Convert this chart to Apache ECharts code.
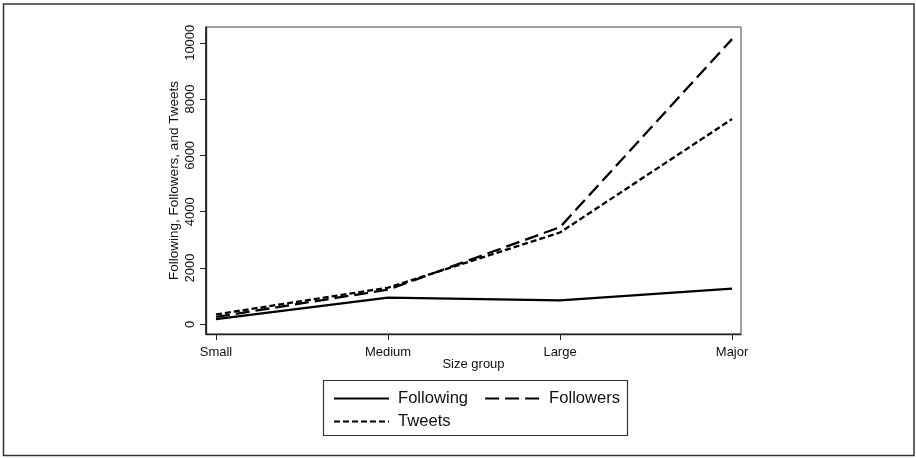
<!DOCTYPE html>
<html>
<head>
<meta charset="utf-8">
<script src="https://cdn.jsdelivr.net/npm/echarts@6/dist/echarts.min.js"></script>
<style>
html,body{margin:0;padding:0;background:#fff;}
#chart{width:916px;height:458px;}
</style>
</head>
<body>
<div id="chart"></div>
<script>
var categories = ['Small', 'Medium', 'Large', 'Major'];
var following = [180, 950, 850, 1270];
var followers = [260, 1230, 3450, 10130];
var tweets = [350, 1300, 3260, 7290];
var yTicks = [0, 2000, 4000, 6000, 8000, 10000];

function pts(arr) { return arr.map(function (v, i) { return [i + 1, v]; }); }

var font = 'Liberation Sans, Arial, sans-serif';
var legendBase = {
  orient: 'horizontal', padding: 0, itemGap: 16, itemWidth: 55, itemHeight: 14,
  itemStyle: { opacity: 0 },
  textStyle: { fontFamily: font, fontSize: 16.6, color: '#111', padding: [0, 0, 0, 4] }
};
var chart = echarts.init(document.getElementById('chart'));
chart.setOption({
  animation: false,
  backgroundColor: '#fff',
  grid: { left: 206, top: 27, right: 175, bottom: 124, show: false },
  xAxis: {
    type: 'value', min: 0.942, max: 4.052,
    name: 'Size group', nameLocation: 'middle', nameGap: 24, nameMoveOverlap: false,
    nameTextStyle: { fontFamily: font, fontSize: 13, color: '#111' },
    axisLine: { show: true, onZero: false, lineStyle: { color: '#222', width: 1.3 } },
    axisTick: { show: true, length: 6, customValues: [1, 2, 3, 4], lineStyle: { color: '#222' } },
    axisLabel: { customValues: [1, 2, 3, 4], margin: 12, fontFamily: font, fontSize: 13, color: '#111',
      formatter: function (v) { return categories[Math.round(v) - 1]; } },
    splitLine: { show: false }
  },
  yAxis: {
    type: 'value', min: -345, max: 10560,
    name: 'Following, Followers, and Tweets', nameLocation: 'middle', nameGap: 25, nameMoveOverlap: false,
    nameTextStyle: { fontFamily: font, fontSize: 13.5, color: '#111' },
    axisLine: { show: true, onZero: false, lineStyle: { color: '#222', width: 1.3 } },
    axisTick: { show: true, length: 6, customValues: yTicks, lineStyle: { color: '#222' } },
    axisLabel: { customValues: yTicks, rotate: 90, margin: 9, fontFamily: font, fontSize: 13, color: '#111',
      formatter: function (v) { return String(v); } },
    splitLine: { show: false }
  },
  legend: [
    Object.assign({ left: 333, top: 390, data: ['Following', 'Followers'] }, legendBase),
    Object.assign({ left: 333, top: 413, data: ['Tweets'] }, legendBase)
  ],
  graphic: [{
    type: 'rect', shape: { x: 3.5, y: 4, width: 910.5, height: 451.5 },
    style: { fill: 'none', stroke: '#333', lineWidth: 1.5 }, silent: true
  }, {
    type: 'rect', shape: { x: 205.5, y: 27, width: 535.5, height: 307 },
    style: { fill: 'none', stroke: '#444', lineWidth: 1 }, silent: true
  }, {
    type: 'rect', shape: { x: 323.5, y: 380.5, width: 304, height: 55 },
    style: { fill: 'none', stroke: '#333', lineWidth: 1.2 }, silent: true
  }],
  series: [
    { name: 'Following', type: 'line', data: pts(following), symbol: 'none', color: '#000',
      lineStyle: { color: '#000', width: 2.3, type: 'solid' } },
    { name: 'Followers', type: 'line', data: pts(followers), symbol: 'none', color: '#000',
      lineStyle: { color: '#000', width: 2.3, type: [14, 6] } },
    { name: 'Tweets', type: 'line', data: pts(tweets), symbol: 'none', color: '#000',
      lineStyle: { color: '#000', width: 2.3, type: [6, 3] } }
  ]
});
</script>
</body>
</html>
